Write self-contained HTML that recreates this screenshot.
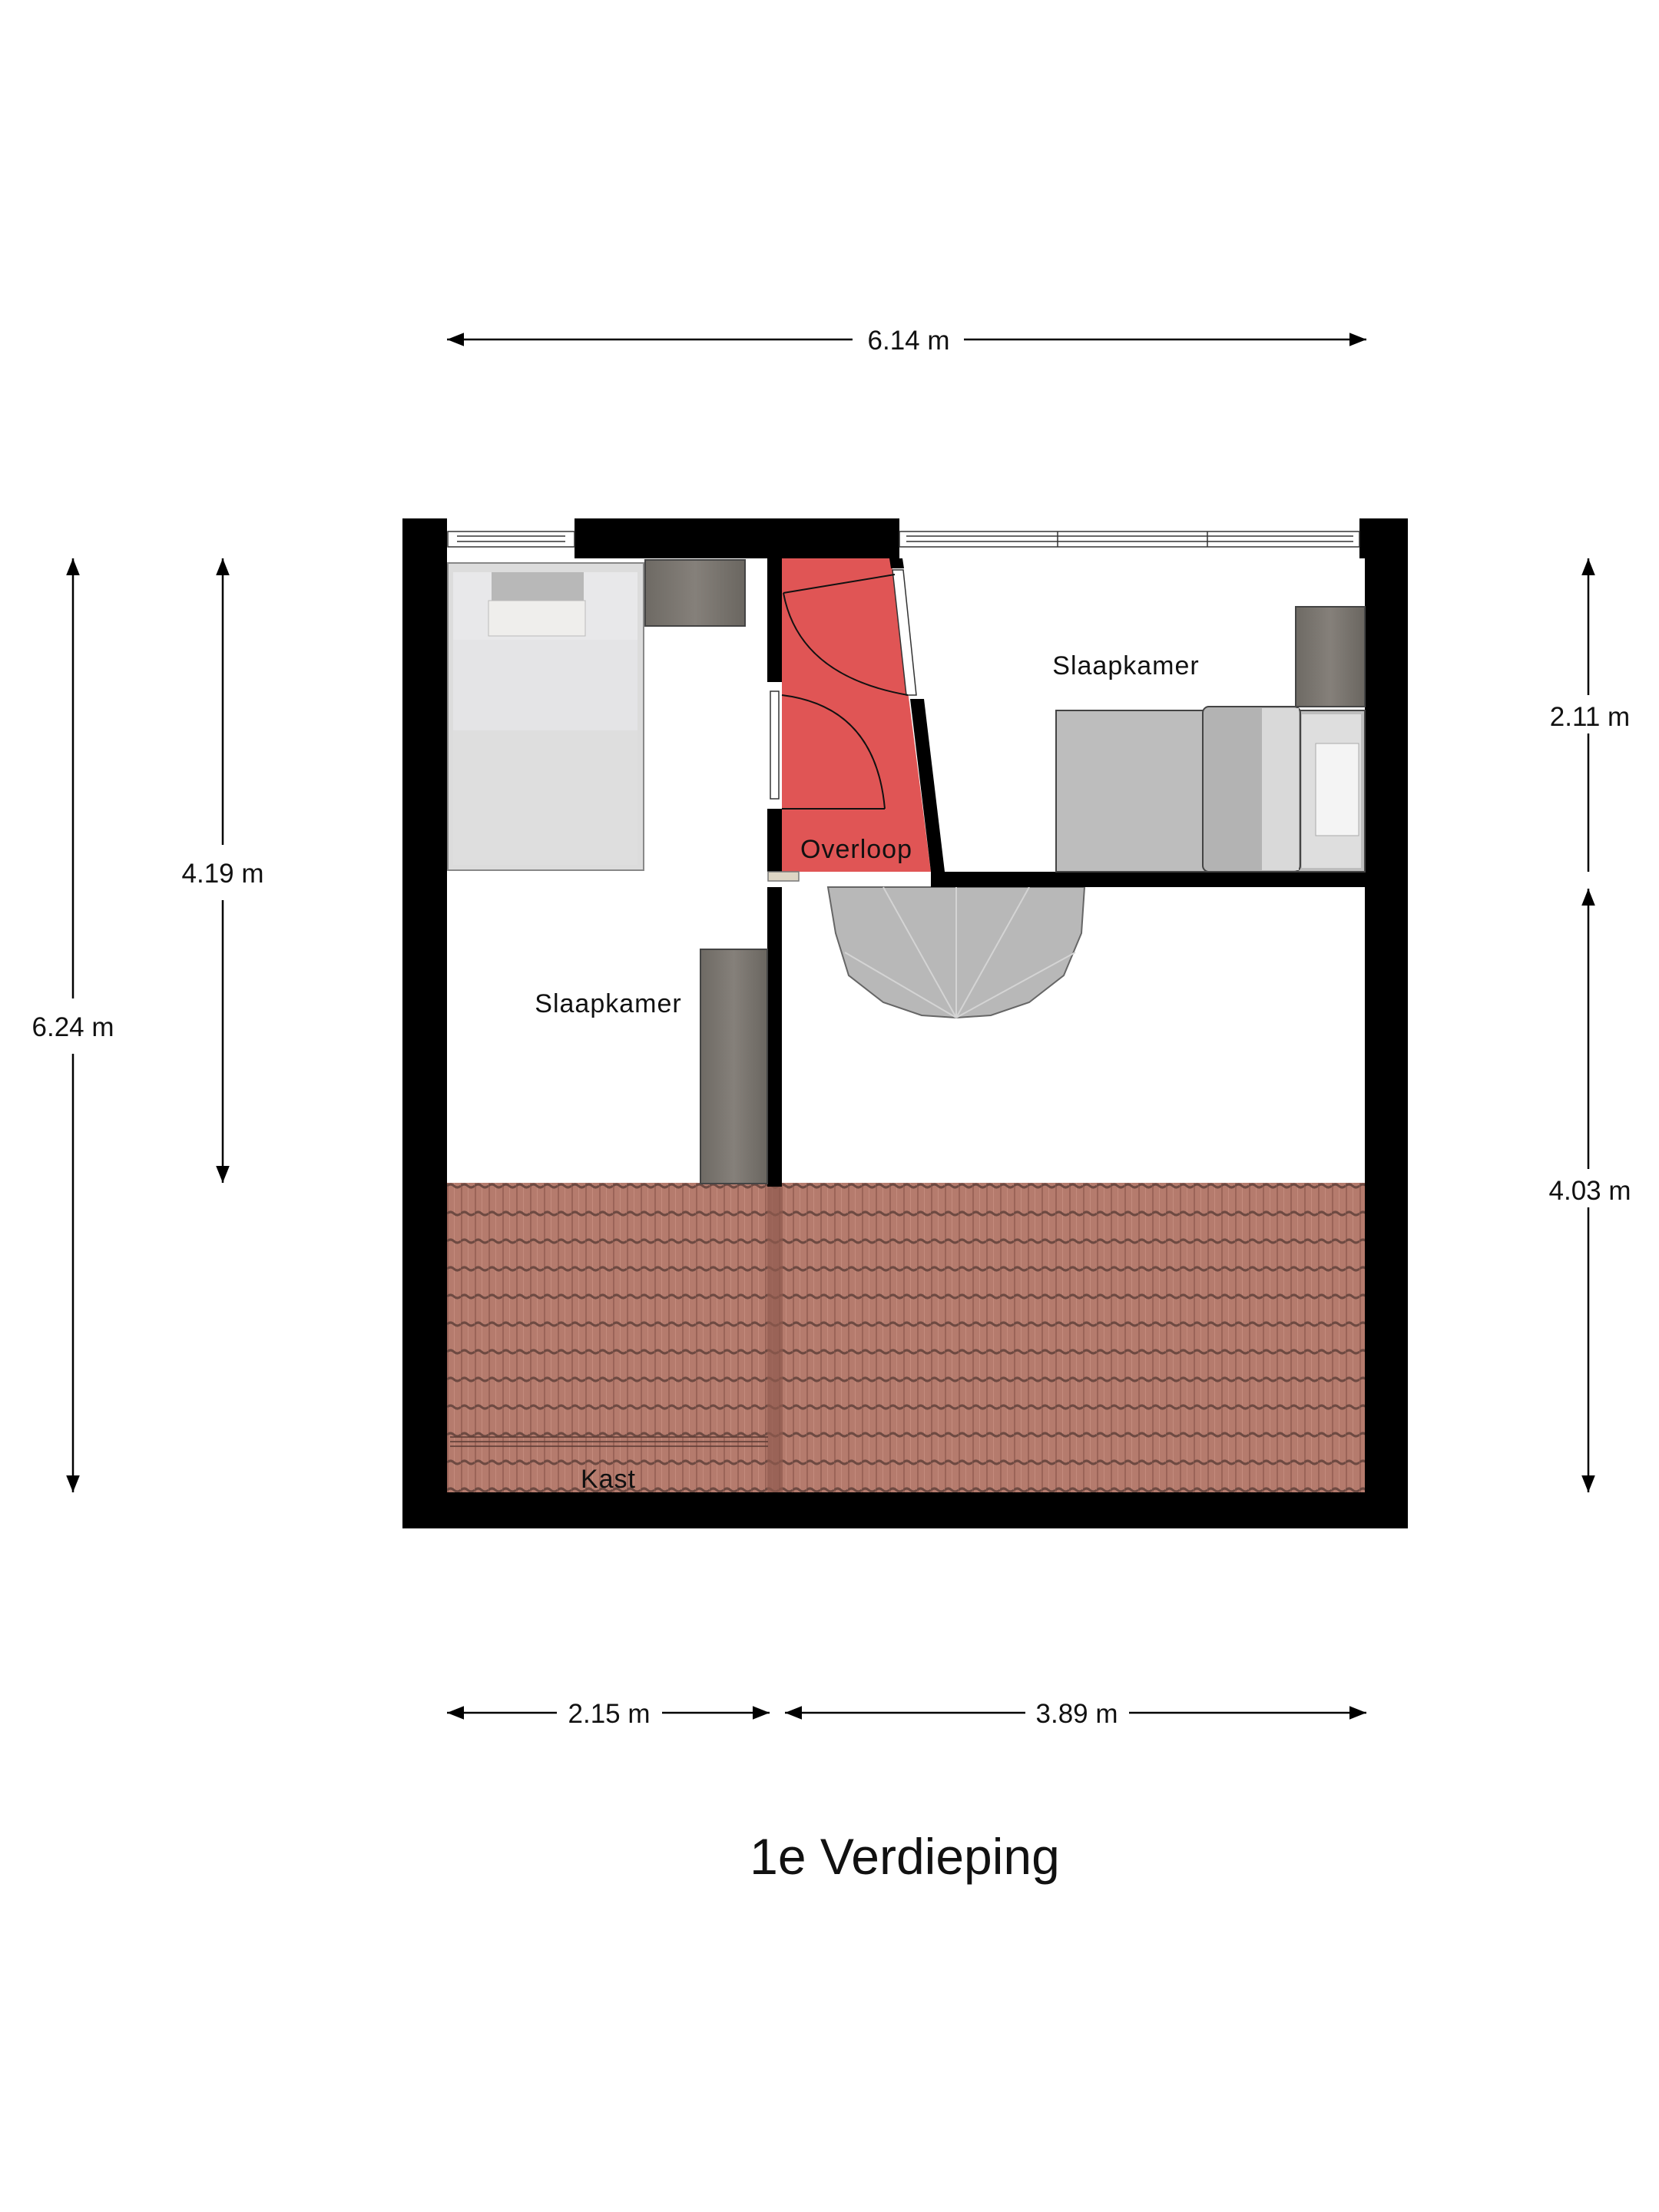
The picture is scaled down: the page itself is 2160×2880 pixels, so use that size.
<!DOCTYPE html>
<html><head><meta charset="utf-8"><style>
html,body{margin:0;padding:0;background:#fff}
svg{display:block}
text{font-family:"Liberation Sans",sans-serif;fill:#111}
</style></head><body>
<svg width="2160" height="2880" viewBox="0 0 2160 2880" xmlns="http://www.w3.org/2000/svg">
<defs>
<pattern id="tile" x="582" y="1540" width="18" height="36" patternUnits="userSpaceOnUse">
<rect width="18" height="36" fill="#b57b6d"/>
<rect x="0" y="0" width="2" height="36" fill="#9b6458"/>
<rect x="9" y="0" width="1" height="36" fill="#c48b7d"/>
<path d="M0 4 Q4.5 0 9 4 T18 4" stroke="#6e4a42" stroke-width="3" fill="none"/>
</pattern>
<marker id="ah" viewBox="0 0 10 10" refX="10" refY="5" markerWidth="22" markerHeight="22" markerUnits="userSpaceOnUse" orient="auto-start-reverse"><path d="M0 1 L10 5 L0 9 z" fill="#000"/></marker>
<linearGradient id="wood" x1="0" x2="1"><stop offset="0" stop-color="#6e6a64"/><stop offset="0.5" stop-color="#85807a"/><stop offset="1" stop-color="#6a6660"/></linearGradient>
</defs>

<!-- dimension lines -->
<g stroke="#000" stroke-width="2.5" fill="none">
<line x1="582" y1="442" x2="1110" y2="442" marker-start="url(#ah)"/>
<line x1="1255" y1="442" x2="1779" y2="442" marker-end="url(#ah)"/>
<line x1="95" y1="727" x2="95" y2="1300" marker-start="url(#ah)"/>
<line x1="95" y1="1372" x2="95" y2="1943" marker-end="url(#ah)"/>
<line x1="290" y1="727" x2="290" y2="1100" marker-start="url(#ah)"/>
<line x1="290" y1="1172" x2="290" y2="1540" marker-end="url(#ah)"/>
<line x1="2068" y1="727" x2="2068" y2="1135" marker-start="url(#ah)"/>
<line x1="2068" y1="1157" x2="2068" y2="1943" marker-start="url(#ah)" marker-end="url(#ah)"/>
<line x1="582" y1="2230" x2="725" y2="2230" marker-start="url(#ah)"/>
<line x1="862" y1="2230" x2="1002" y2="2230" marker-end="url(#ah)"/>
<line x1="1022" y1="2230" x2="1335" y2="2230" marker-start="url(#ah)"/>
<line x1="1470" y1="2230" x2="1779" y2="2230" marker-end="url(#ah)"/>
</g>
<rect x="2030" y="905" width="80" height="50" fill="#fff"/>
<rect x="2030" y="1522" width="80" height="50" fill="#fff"/>
<g font-size="35" text-anchor="middle">
<text x="1183" y="455">6.14 m</text>
<text x="95" y="1349">6.24 m</text>
<text x="290" y="1149">4.19 m</text>
<text x="2070" y="945">2.11 m</text>
<text x="2070" y="1562">4.03 m</text>
<text x="793" y="2243">2.15 m</text>
<text x="1402" y="2243">3.89 m</text>
</g>
<text x="1178" y="2440" font-size="66" text-anchor="middle">1e Verdieping</text>

<!-- tiles -->
<rect x="582" y="1540" width="1197" height="405" fill="url(#tile)"/>
<rect x="999" y="1540" width="20" height="405" fill="#8f5a4e" opacity="0.7"/>
<g stroke="#5a3a33" stroke-width="1.5" fill="none">
<line x1="586" y1="1871" x2="1000" y2="1871"/><line x1="586" y1="1877" x2="1000" y2="1877"/><line x1="586" y1="1883" x2="1000" y2="1883"/>
</g>

<!-- overloop red -->
<polygon points="1018,727 1160,727 1212,1135 1018,1135" fill="#e05555"/>

<!-- stairs -->
<path d="M1078 1155 L1412 1155 L1408 1215 L1385 1270 L1340 1305 L1290 1322 L1245 1325 L1200 1322 L1150 1305 L1105 1270 L1088 1215 Z" fill="#b8b8b8" stroke="#666" stroke-width="2"/>
<g stroke="#d4d4d4" stroke-width="2"><line x1="1245" y1="1325" x2="1245" y2="1155"/><line x1="1245" y1="1325" x2="1150" y2="1155"/><line x1="1245" y1="1325" x2="1340" y2="1155"/><line x1="1245" y1="1325" x2="1100" y2="1240"/><line x1="1245" y1="1325" x2="1400" y2="1240"/></g>

<!-- walls -->
<g fill="#000">
<rect x="524" y="675" width="58" height="1315"/>
<rect x="1777" y="675" width="56" height="1315"/>
<rect x="524" y="1943" width="1309" height="47"/>
<rect x="748" y="675" width="423" height="52"/>
<rect x="1770" y="675" width="63" height="52"/>
<rect x="999" y="727" width="19" height="161"/>
<rect x="999" y="1053" width="19" height="82"/>
<rect x="999" y="1155" width="19" height="390"/>
<polygon points="1185,910 1203,910 1230,1135 1212,1135"/>
<polygon points="1158,727 1175,727 1177,740 1160,740"/>
<rect x="1212" y="1135" width="621" height="20"/>
</g>
<rect x="1000" y="1135" width="40" height="12" fill="#ddd5c4" stroke="#777" stroke-width="1.5"/>
<!-- windows -->
<g fill="#fff" stroke="#333" stroke-width="1.5">
<rect x="583" y="692" width="165" height="20"/>
<line x1="595" y1="698" x2="736" y2="698"/><line x1="595" y1="705" x2="736" y2="705"/>
<rect x="1171" y="692" width="599" height="20"/>
<line x1="1180" y1="698" x2="1762" y2="698"/><line x1="1180" y1="705" x2="1762" y2="705"/>
<line x1="1377" y1="692" x2="1377" y2="712"/><line x1="1572" y1="692" x2="1572" y2="712"/>
<rect x="1003" y="900" width="11" height="140"/>
<polygon points="1162,742 1176,742 1193,905 1180,905"/>
</g>
<!-- door swings -->
<g stroke="#111" stroke-width="2" fill="none">
<line x1="1165" y1="748" x2="1020" y2="772"/>
<path d="M1020 772 Q1040 880 1182 905"/>
<line x1="1018" y1="1053" x2="1152" y2="1053"/>
<path d="M1018 905 Q1140 920 1152 1053"/>
</g>

<!-- left bed -->
<rect x="583" y="733" width="255" height="400" fill="#dcdcdc" stroke="#888" stroke-width="2"/>
<rect x="590" y="745" width="240" height="88" fill="#e8e8ea"/>
<rect x="640" y="745" width="120" height="45" fill="#b8b8b8"/>
<rect x="636" y="782" width="126" height="46" fill="#efeeec" stroke="#bbb"/>
<rect x="590" y="833" width="240" height="118" fill="#e4e4e6"/>
<rect x="590" y="951" width="240" height="175" fill="#dedede"/>
<rect x="840" y="729" width="130" height="86" fill="url(#wood)" stroke="#444" stroke-width="2"/>
<!-- left desk -->
<rect x="912" y="1236" width="87" height="305" fill="url(#wood)" stroke="#444" stroke-width="2"/>
<!-- right desk -->
<rect x="1687" y="790" width="90" height="130" fill="url(#wood)" stroke="#444" stroke-width="2"/>
<!-- right bed -->
<rect x="1375" y="925" width="402" height="210" fill="#bdbdbd" stroke="#444" stroke-width="2"/>
<rect x="1566" y="920" width="127" height="215" rx="8" fill="#b3b3b3" stroke="#444" stroke-width="2"/>
<rect x="1643" y="922" width="48" height="211" fill="#d9d9d9"/>
<rect x="1695" y="930" width="77" height="200" fill="#dedede"/>
<rect x="1713" y="968" width="56" height="120" fill="#f4f4f4" stroke="#aaa"/>

<!-- labels -->
<g font-size="34" text-anchor="middle" letter-spacing="1">
<text x="1466" y="878">Slaapkamer</text>
<text x="792" y="1318">Slaapkamer</text>
<text x="1115" y="1117">Overloop</text>
<text x="792" y="1937">Kast</text>
</g>
</svg>
</body></html>
